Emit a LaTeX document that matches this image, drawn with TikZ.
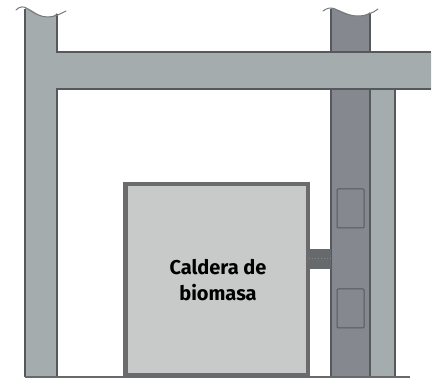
\documentclass[tikz,border=0pt]{standalone}
\usepackage{fontspec}
\setmainfont{Fira Sans}
\definecolor{wallc}{HTML}{A5ACAE}
\definecolor{darkc}{HTML}{85888F}
\definecolor{edgec}{HTML}{55595C}
\definecolor{boilc}{HTML}{C7CAC9}
\definecolor{boiledge}{HTML}{6B6B6D}
\tikzset{
  wall/.style={fill=wallc,draw=none},
  edgeline/.style={draw=edgec,line width=1.5pt},
  breakline/.style={draw=edgec!80,line width=1pt,line cap=round},
  window/.style={draw=edgec,line width=1pt,fill=darkc,rounded corners=1pt,outer sep=0pt},
  boiler/.style={draw=boiledge,line width=4.6pt,fill=boilc,outer sep=0pt},
  label/.style={font=\bfseries\fontsize{20}{26}\selectfont,align=center,text=black}
}
\begin{document}
\begin{tikzpicture}[x=1pt,y=-1pt]
\useasboundingbox (0,0) rectangle (432,382);
% left column and beam
\fill[wall] (25,8) .. controls (32,8) and (38,17) .. (47,17) .. controls (52,17) and (55,15) .. (57,13) -- (57,52) -- (431,52) -- (431,89) -- (57,89) -- (57,376) -- (25,376) -- cycle;
% dark column
\fill[darkc] (331,8) .. controls (338,8) and (348,16) .. (358,16) .. controls (364,16) and (368,14) .. (370,12) -- (370,52) -- (331,52) -- cycle;
\fill[darkc] (331,89) rectangle (370,376);
\fill[wall] (370,89) rectangle (395,376);
% edges
\draw[edgeline] (25,9) -- (25,377);
\draw[edgeline] (57,14) -- (57,52) -- (431,52);
\draw[edgeline] (431,89) -- (57,89) -- (57,377);
\draw[edgeline] (331,9) -- (331,52);
\draw[edgeline] (370,13) -- (370,52);
\draw[edgeline] (331,89) -- (331,377);
\draw[edgeline] (370,89) -- (370,377);
\draw[edgeline] (395,89) -- (395,377);
% break lines
\draw[breakline] (16,10) .. controls (20,6) and (24,6) .. (28,9) .. controls (35,14) and (41,17) .. (48,17) .. controls (55,17) and (60,14) .. (66,11);
\draw[breakline] (323,11) .. controls (327,8) and (331,7) .. (335,9) .. controls (342,13) and (350,16) .. (358,16) .. controls (366,16) and (373,13) .. (378,9);
% windows
\node[window,minimum width=27pt,minimum height=39pt,inner sep=0pt,anchor=north west] (w1) at (337,189) {};
\node[window,minimum width=27pt,minimum height=39pt,inner sep=0pt,anchor=north west] (w2) at (337,289) {};
% boiler
\node[boiler,minimum width=182.5pt,minimum height=191.5pt,inner sep=0pt,anchor=north west] (b) at (125.5,184) {};
% flue connector
\fill[edgec!90] (309,249) rectangle (331,269);
\draw[darkc,line width=1pt,dotted] (309,259) -- (331,259);
% ground
\draw[edgec!90,line width=1.5pt] (25,377) -- (410,377);
\node[label] (t) at (218,280) {Caldera de\\biomasa};
\end{tikzpicture}
\end{document}
